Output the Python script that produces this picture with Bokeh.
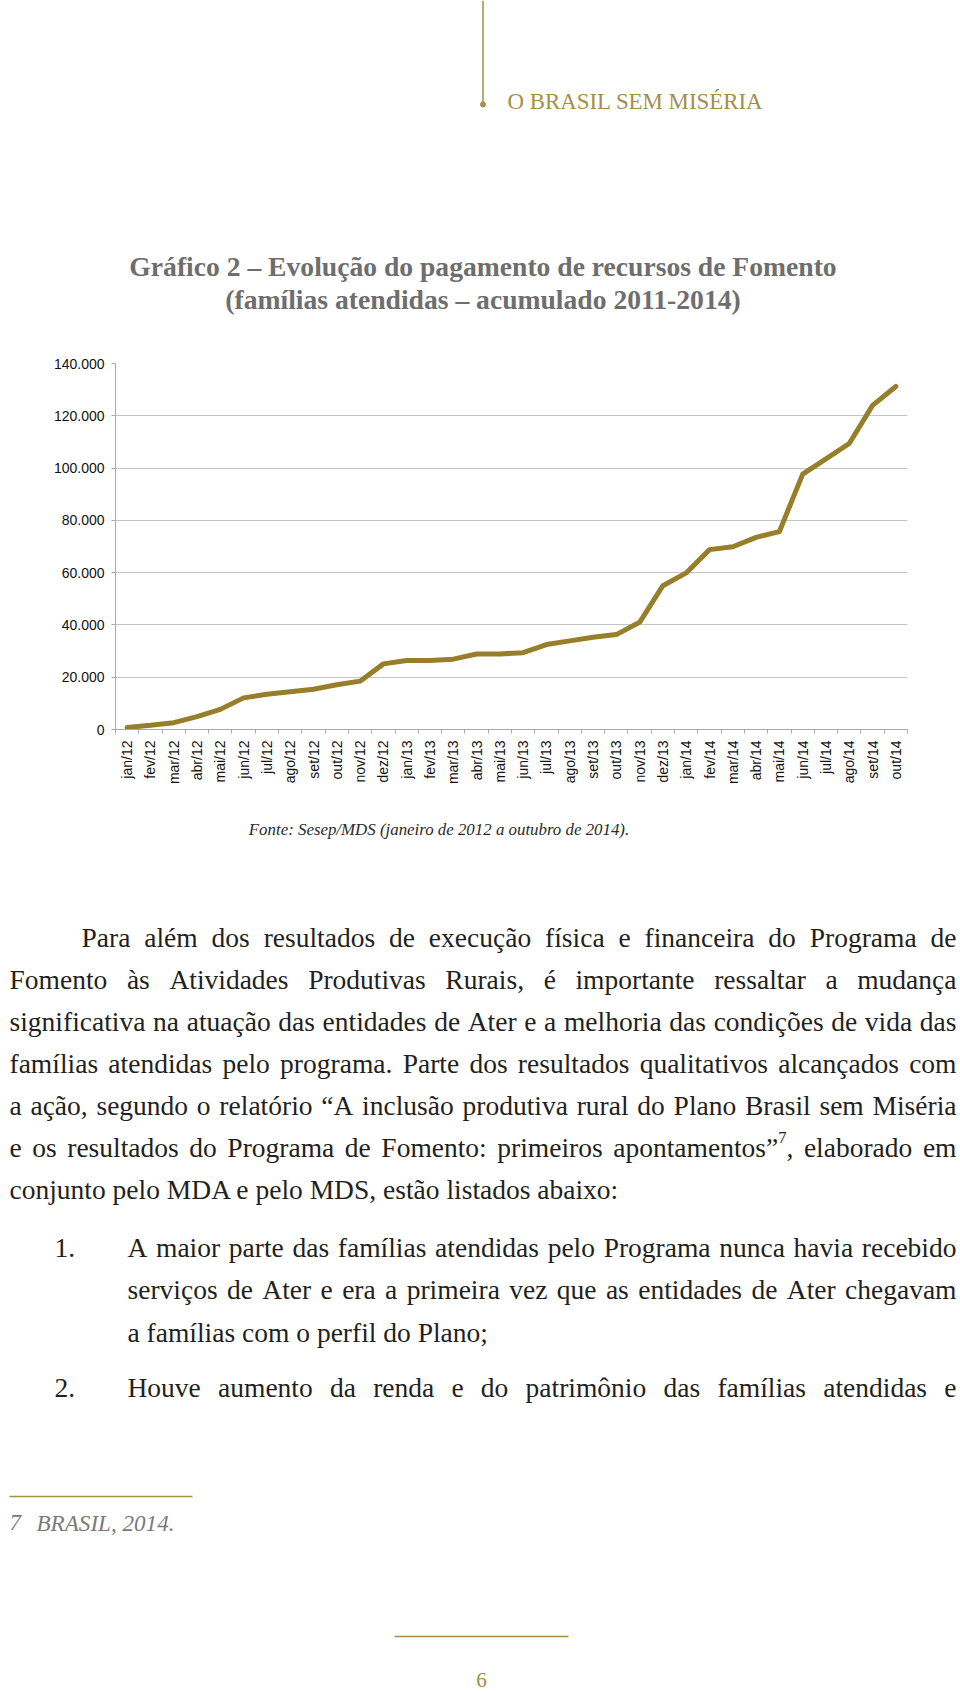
import unicodedata
from math import pi
from bokeh.plotting import figure
from bokeh.models import Range1d, FixedTicker
from bokeh.layouts import column
from bokeh.embed import file_html
from bokeh.resources import INLINE
from bokeh.core.properties import value

# ---------------- data ----------------
months = ["jan/12", "fev/12", "mar/12", "abr/12", "mai/12", "jun/12", "jul/12", "ago/12",
          "set/12", "out/12", "nov/12", "dez/12", "jan/13", "fev/13", "mar/13", "abr/13",
          "mai/13", "jun/13", "jul/13", "ago/13", "set/13", "out/13", "nov/13", "dez/13",
          "jan/14", "fev/14", "mar/14", "abr/14", "mai/14", "jun/14", "jul/14", "ago/14",
          "set/14", "out/14"]
familias = [800, 1600, 2600, 4900, 7700, 12100, 13500, 14400, 15400, 17100, 18500, 25100,
            26400, 26400, 26900, 28900, 28900, 29400, 32500, 33900, 35300, 36300, 41000, 55000,
            59900, 68800, 69900, 73500, 75700, 97700, 103500, 109400, 124000, 131200]
y_ticks = [0, 20000, 40000, 60000, 80000, 100000, 120000, 140000]
y_tick_labels = ["0", "20.000", "40.000", "60.000", "80.000", "100.000", "120.000", "140.000"]

header_text = "O BRASIL SEM MISÉRIA"
title_lines = ["Gráfico 2 – Evolução do pagamento de recursos de Fomento",
               "(famílias atendidas – acumulado 2011-2014)"]
source_text = "Fonte: Sesep/MDS (janeiro de 2012 a outubro de 2014)."
paragraph_lines = [
    "Para além dos resultados de execução física e financeira do Programa de",
    "Fomento às Atividades Produtivas Rurais, é importante ressaltar a mudança",
    "significativa na atuação das entidades de Ater e a melhoria das condições de vida das",
    "famílias atendidas pelo programa. Parte dos resultados qualitativos alcançados com",
    "a ação, segundo o relatório “A inclusão produtiva rural do Plano Brasil sem Miséria",
    "e os resultados do Programa de Fomento: primeiros apontamentos”^7, elaborado em",
    "conjunto pelo MDA e pelo MDS, estão listados abaixo:",
]
item1_lines = [
    "A maior parte das famílias atendidas pelo Programa nunca havia recebido",
    "serviços de Ater e era a primeira vez que as entidades de Ater chegavam",
    "a famílias com o perfil do Plano;",
]
item2_lines = ["Houve aumento da renda e do patrimônio das famílias atendidas e"]
footnote_num = "7"
footnote_text = "BRASIL, 2014."
page_number = "6"

# ---------------- styling ----------------
GOLD = "#a38e4a"
LINE = "#977e2b"
GRAY_TITLE = "#6e6e6e"
BODY = "#231f20"
SERIF = "Liberation Serif"
SANS = "Liberation Sans"

REG = {' ': 250, 'a': 444, 'b': 500, 'c': 444, 'd': 500, 'e': 444, 'f': 333, 'g': 500, 'h': 500,
       'i': 278, 'j': 278, 'k': 500, 'l': 278, 'm': 778, 'n': 500, 'o': 500, 'p': 500, 'q': 500,
       'r': 333, 's': 389, 't': 278, 'u': 500, 'v': 500, 'w': 722, 'x': 500, 'y': 500, 'z': 444,
       'A': 722, 'B': 667, 'C': 667, 'D': 722, 'E': 611, 'F': 556, 'G': 722, 'H': 722, 'I': 333,
       'J': 389, 'K': 722, 'L': 611, 'M': 889, 'N': 722, 'O': 722, 'P': 556, 'Q': 722, 'R': 667,
       'S': 556, 'T': 611, 'U': 722, 'V': 722, 'W': 944, 'X': 722, 'Y': 722, 'Z': 611,
       '.': 250, ',': 250, ':': 278, ';': 278, '(': 333, ')': 333, '-': 333, '–': 500,
       '“': 444, '”': 444, '/': 278}
BOLD = dict(REG)
BOLD.update({'b': 556, 'd': 556, 'h': 556, 'j': 333, 'k': 556, 'm': 833, 'n': 556, 'p': 556,
             'q': 556, 'r': 444, 't': 333, 'u': 556, 'G': 778, 'E': 667, 'F': 611})
ITAL = dict(REG)
ITAL.update({'a': 500, 'f': 278, 'k': 444, 'm': 722, 'r': 389, 'v': 444, 'w': 667, 'x': 444,
             'y': 444, 'z': 389, 'A': 611, 'B': 611, 'R': 611, 'S': 500, 'M': 833, 'L': 556,
             ':': 333})


def em(s, table=REG):
    t = 0
    for ch in s:
        if ch in table:
            t += table[ch]
            continue
        b = unicodedata.normalize("NFD", ch)[0]
        t += table.get(b, 500)
    return t / 1000.0


def add_text(p, xs, ys, texts, size, color, style="normal", align="left", font=SERIF):
    p.text(x=xs, y=ys, text=texts, text_font=value(font), text_font_size="%.2fpx" % size,
           text_color=color, text_font_style=style, text_align=align,
           text_baseline="alphabetic")


def page_fig(y0, y1):
    p = figure(width=960, height=y1 - y0, x_range=Range1d(0, 960), y_range=Range1d(y1, y0),
               x_axis_type=None, y_axis_type=None, toolbar_location=None,
               output_backend="svg", min_border=0, frame_align=False)
    p.outline_line_color = None
    p.background_fill_color = "white"
    p.border_fill_color = "white"
    return p


# ---------------- top part (page y 0..340) ----------------
top = page_fig(0, 340)
top.line([482.5, 482.5], [0, 102], line_color=GOLD, line_width=1.5)
top.scatter([482.5], [104], size=5, color=GOLD)
hs = 256.0 / em(header_text)
add_text(top, [507], [100.5], [header_text], hs, GOLD)
ts = 0.98 * (707.0 / em(title_lines[0], BOLD) + 525.0 / em(title_lines[1], BOLD)) / 2
add_text(top, [482.5, 482.5], [266, 299], title_lines, ts, GRAY_TITLE, style="bold",
         align="center")

# ---------------- chart (page y 340..800) ----------------
x_idx = list(range(1, len(months) + 1))
c = figure(width=960, height=460, x_range=Range1d(0.5, len(months) + 0.5),
           y_range=Range1d(0, 140000), toolbar_location=None, output_backend="svg",
           min_border_left=115, min_border_right=53, min_border_top=23, min_border_bottom=71,
           frame_align=False)
c.outline_line_color = None
c.line(x=x_idx, y=familias, line_width=5, line_color=LINE, line_join="round",
       line_cap="round")

xa = c.xaxis[0]
xa.ticker = FixedTicker(ticks=x_idx, minor_ticks=[i + 0.5 for i in range(0, len(months) + 1)])
xa.major_label_overrides = {i: m for i, m in zip(x_idx, months)}
xa.major_label_orientation = pi / 2
xa.major_tick_out = 0
xa.major_tick_in = 0
xa.minor_tick_out = 4
xa.minor_tick_in = 0
xa.minor_tick_line_color = "#a8a8a8"
xa.axis_line_color = "#a8a8a8"
xa.major_label_standoff = 7
xa.major_label_text_font = SANS
xa.major_label_text_font_size = "14px"
xa.major_label_text_color = "#111111"

ya = c.yaxis[0]
ya.ticker = FixedTicker(ticks=y_ticks)
ya.major_label_overrides = {t: l for t, l in zip(y_ticks, y_tick_labels)}
ya.major_tick_out = 4
ya.major_tick_in = 0
ya.minor_tick_out = 0
ya.minor_tick_in = 0
ya.major_tick_line_color = "#a8a8a8"
ya.axis_line_color = "#a8a8a8"
ya.major_label_standoff = 7
ya.major_label_text_font = SANS
ya.major_label_text_font_size = "14px"
ya.major_label_text_color = "#111111"

c.xgrid.visible = False
c.ygrid.ticker = FixedTicker(ticks=y_ticks)
c.ygrid.grid_line_color = "#c4c4c4"
c.ygrid.grid_line_width = 1

# ---------------- bottom part (page y 800..1692) ----------------
bot = page_fig(800, 1692)
cs = 381.0 / em(source_text, ITAL)
add_text(bot, [438.5], [829], [source_text], cs, "#2a2a2a", style="italic", align="center")

RIGHT = 956.0
justified = [(81.0, paragraph_lines[0])] + [(9.0, l) for l in paragraph_lines[1:6]] + \
            [(127.0, l) for l in item1_lines[:2]] + [(127.0, item2_lines[0])]


def tok_em(tok):
    if "^" in tok:
        main, rest = tok.split("^")
        return em(main) + 0.6 * em(rest[0]) + em(rest[1:])
    return em(tok)


sizes = []
for x0, line in justified:
    toks = line.split(" ")
    sizes.append((RIGHT - x0) / (sum(tok_em(t) for t in toks) + 0.25 * (len(toks) - 1)))
bs = min(min(sizes), 27.5)

wx, wy, wt = [], [], []
sx, sy, st = [], [], []


def place_justified(x0, y, line):
    toks = line.split(" ")
    widths = [tok_em(t) * bs for t in toks]
    gap = (RIGHT - x0 - sum(widths)) / (len(toks) - 1)
    x = x0
    for t, w in zip(toks, widths):
        if "^" in t:
            main, rest = t.split("^")
            wx.append(x); wy.append(y); wt.append(main)
            xs_ = x + em(main) * bs
            sx.append(xs_); sy.append(y - bs * 0.38); st.append(rest[0])
            wx.append(xs_ + 0.6 * em(rest[0]) * bs); wy.append(y); wt.append(rest[1:])
        else:
            wx.append(x); wy.append(y); wt.append(t)
        x += w + gap


para_base = [937 + 42 * i for i in range(7)]
place_justified(81.0, para_base[0], paragraph_lines[0])
for i in range(1, 6):
    place_justified(9.0, para_base[i], paragraph_lines[i])
wx.append(9.0); wy.append(para_base[6]); wt.append(paragraph_lines[6])

item_base = [1247, 1289, 1332]
wx.append(54.0); wy.append(item_base[0]); wt.append("1.")
place_justified(127.0, item_base[0], item1_lines[0])
place_justified(127.0, item_base[1], item1_lines[1])
wx.append(127.0); wy.append(item_base[2]); wt.append(item1_lines[2])
wx.append(54.0); wy.append(1387); wt.append("2.")
place_justified(127.0, 1387, item2_lines[0])

add_text(bot, wx, wy, wt, bs, BODY)
add_text(bot, sx, sy, st, bs * 0.6, BODY)

# footnote
bot.line([9, 192], [1496, 1496], line_color=GOLD, line_width=1.5)
fs = 138.0 / em(footnote_text, ITAL)
add_text(bot, [9, 36], [1522, 1522], [footnote_num, footnote_text], fs, "#7a7a7a",
         style="italic")

# page number
bot.line([394, 568], [1636, 1636], line_color=GOLD, line_width=1.5)
add_text(bot, [481], [1679], [page_number], 21, GOLD, align="center")

layout = column(top, c, bot, spacing=0)
open("out.html", "w").write(file_html(layout, INLINE))
